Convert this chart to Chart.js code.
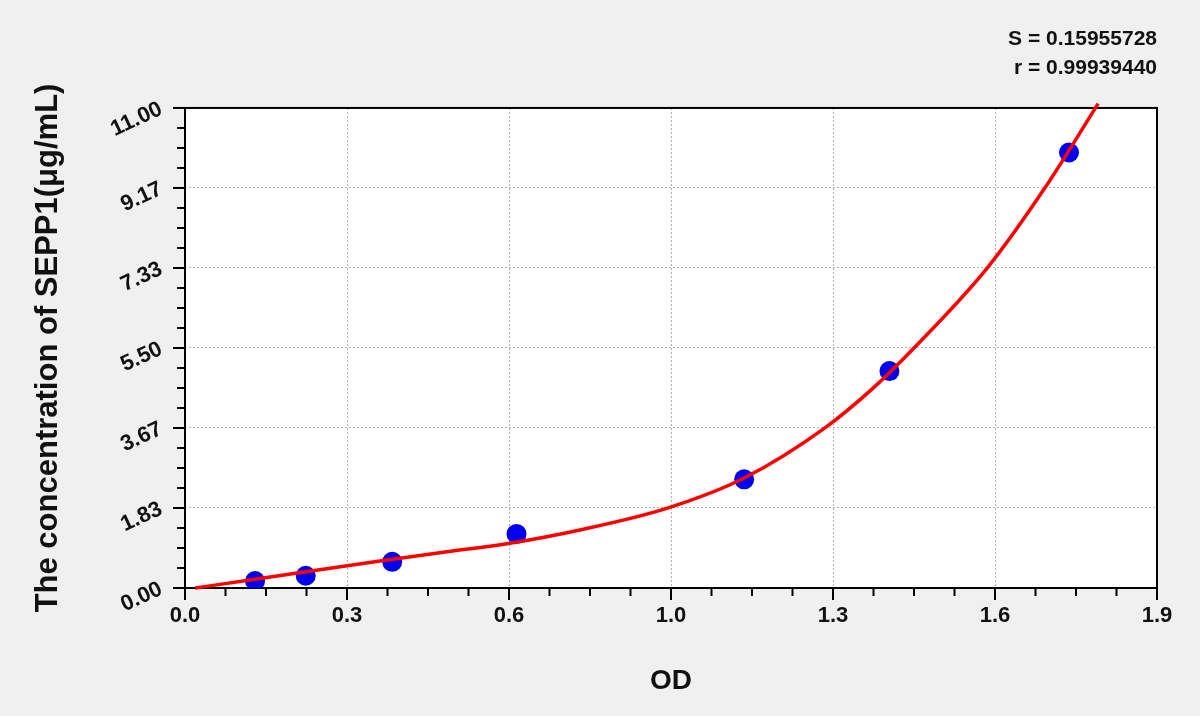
<!DOCTYPE html>
<html>
<head>
<meta charset="utf-8">
<script src="https://cdn.jsdelivr.net/npm/chart.js@4.4.1/dist/chart.umd.min.js"></script>
<style>
  html, body { margin: 0; padding: 0; background: #f0f0f0; }
</style>
</head>
<body>
<canvas id="chart" width="1200" height="716"></canvas>
<script>
// standard points: OD vs concentration
const stdOD   = [0.137, 0.236, 0.405, 0.648, 1.093, 1.377, 1.728];
const stdConc = [0.16, 0.28, 0.60, 1.24, 2.49, 4.97, 9.98];

// fitted curve (mostly where it crosses the grid)
const fitOD   = [0.02, 0.137, 0.236, 0.381, 0.512, 0.632, 0.772, 0.943, 1.093, 1.251, 1.345, 1.425, 1.568, 1.681, 1.785];
const fitConc = [0.00, 0.20, 0.37, 0.62, 0.83, 1.02, 1.33, 1.83, 2.52, 3.67, 4.58, 5.50, 7.33, 9.17, 11.10];

// axis labels
const xTickLabels = ['0.0', '0.3', '0.6', '1.0', '1.3', '1.6', '1.9'];
const yTickLabels = ['0.00', '1.83', '3.67', '5.50', '7.33', '9.17', '11.00'];
const xMax = 1.9;
const yMax = 11.0;

const statLines = ['S = 0.15955728', 'r = 0.99939440'];

const FONT = "'Liberation Sans', Arial, sans-serif";
Chart.defaults.font.family = FONT;

// white plot area, black frame, major + minor tick marks
const framePlugin = {
  id: 'frame',
  beforeDraw(chart) {
    const { ctx, chartArea: a } = chart;
    ctx.save();
    ctx.fillStyle = '#ffffff';
    ctx.fillRect(a.left, a.top, a.right - a.left, a.bottom - a.top);
    ctx.restore();
  },
  beforeDatasetsDraw(chart) {
    const { ctx, chartArea: a, scales } = chart;
    ctx.save();
    ctx.strokeStyle = '#000';
    ctx.lineWidth = 2;
    ctx.strokeRect(a.left, a.top, a.right - a.left, a.bottom - a.top);
    const nx = (xTickLabels.length - 1) * 4;
    for (let i = 0; i <= nx; i++) {
      const px = scales.x.getPixelForValue(xMax * i / nx);
      const len = i % 4 === 0 ? 12 : 8;
      ctx.beginPath();
      ctx.moveTo(px, a.bottom);
      ctx.lineTo(px, a.bottom + len);
      ctx.stroke();
    }
    const ny = (yTickLabels.length - 1) * 4;
    for (let i = 0; i <= ny; i++) {
      const py = scales.y.getPixelForValue(yMax * i / ny);
      const len = i % 4 === 0 ? 12 : 8;
      ctx.beginPath();
      ctx.moveTo(a.left - len, py);
      ctx.lineTo(a.left, py);
      ctx.stroke();
    }
    ctx.restore();
  }
};

new Chart(document.getElementById('chart'), {
  type: 'scatter',
  data: {
    datasets: [
      {
        label: 'fit',
        data: fitOD.map((x, i) => ({ x: x, y: fitConc[i] })),
        showLine: true,
        borderColor: '#ff0000',
        borderWidth: 3.5,
        pointRadius: 0,
        cubicInterpolationMode: 'monotone',
        clip: false,
        order: 0
      },
      {
        label: 'standards',
        data: stdOD.map((x, i) => ({ x: x, y: stdConc[i] })),
        backgroundColor: '#0000ee',
        borderWidth: 0,
        pointRadius: 10,
        order: 1
      }
    ]
  },
  options: {
    responsive: false,
    animation: false,
    devicePixelRatio: 1,
    layout: { padding: { left: 0, right: 43, top: 0, bottom: 0 } },
    plugins: {
      legend: { display: false },
      tooltip: { enabled: false },
      title: {
        display: true,
        text: statLines,
        align: 'end',
        color: '#111',
        font: { size: 21, weight: 'bold', lineHeight: 1.38 },
        padding: { top: 25, bottom: 25 }
      }
    },
    scales: {
      x: {
        type: 'linear',
        min: 0,
        max: xMax,
        afterBuildTicks: s => {
          s.ticks = xTickLabels.map((_, i) => ({ value: xMax * i / (xTickLabels.length - 1) }));
        },
        afterFit: s => { s.height = 128; },
        ticks: {
          callback: (v, i) => xTickLabels[i],
          color: '#111',
          font: { size: 22, weight: 'bold' },
          padding: 15,
          minRotation: 0,
          maxRotation: 0,
          autoSkip: false
        },
        grid: { drawTicks: false, color: '#b4b4b4', lineWidth: 1 },
        border: { display: false, dash: [2, 2] },
        title: {
          display: true,
          text: 'OD',
          color: '#111',
          font: { size: 28, weight: 'bold' },
          padding: { top: 0, bottom: 18 }
        }
      },
      y: {
        type: 'linear',
        min: 0,
        max: yMax,
        afterBuildTicks: s => {
          s.ticks = yTickLabels.map((_, i) => ({ value: yMax * i / (yTickLabels.length - 1) }));
        },
        afterFit: s => { s.width = 185; },
        ticks: {
          callback: (v, i) => yTickLabels[i],
          color: '#111',
          font: { size: 22, weight: 'bold' },
          padding: 24,
          minRotation: 25,
          maxRotation: 25,
          autoSkip: false
        },
        grid: { drawTicks: false, color: '#b4b4b4', lineWidth: 1 },
        border: { display: false, dash: [2, 2] },
        title: {
          display: true,
          text: 'The concentration of SEPP1(μg/mL)',
          color: '#111',
          font: { size: 31, weight: 'bold' },
          padding: { top: 30, bottom: 0 }
        }
      }
    }
  },
  plugins: [framePlugin]
});
</script>
</body>
</html>
